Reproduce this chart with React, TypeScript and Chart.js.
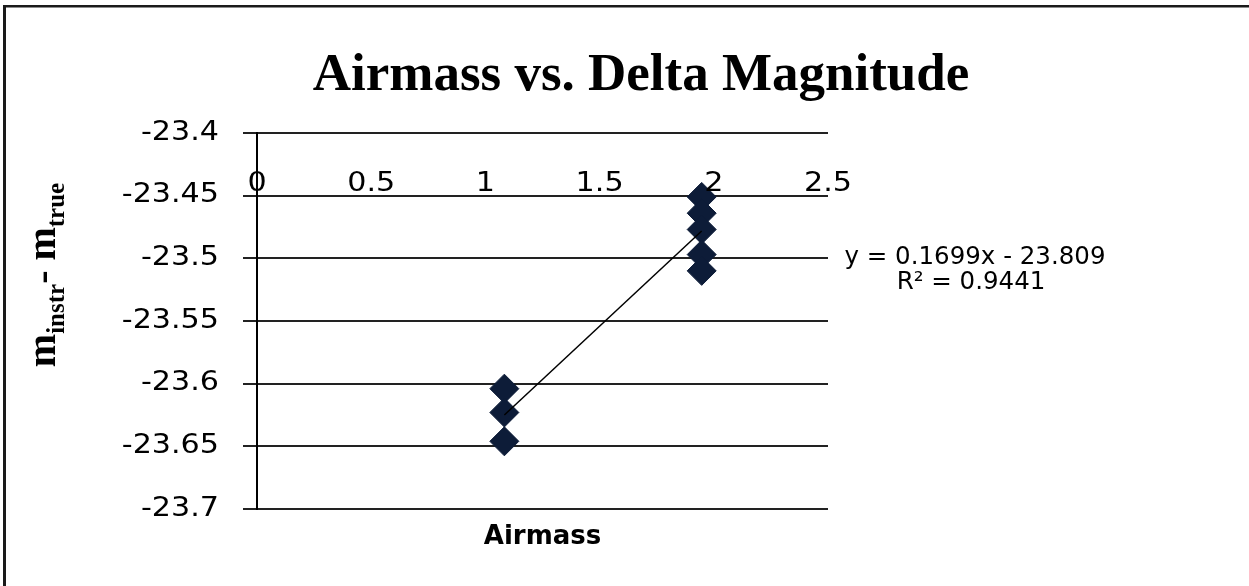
import React, { useEffect, useRef } from "react";
import { Chart, registerables } from "chart.js";

Chart.register(...registerables);

const chartTitle = "Airmass vs. Delta Magnitude";
const xAxisTitle = "Airmass";
const airmass = [1.083, 1.083, 1.083, 1.947, 1.947, 1.947, 1.947, 1.947];
const deltaMag = [-23.604, -23.623, -23.646, -23.451, -23.464, -23.477, -23.497, -23.51];
const xTicks = [0, 0.5, 1, 1.5, 2, 2.5];
const yTicks = [-23.7, -23.65, -23.6, -23.55, -23.5, -23.45, -23.4];
const trendSlope = 0.1699;
const trendIntercept = -23.809;
const trendEquation = "y = 0.1699x - 23.809";
const trendR2 = "R² = 0.9441";

const W = 1249;
const H = 586;
const STRETCH = 1.16;

const fmt = (v: number) => String(parseFloat(v.toFixed(2)));

const overlay = {
  id: "overlay",
  beforeDraw(chart: any) {
    const ctx = chart.ctx;
    ctx.save();
    ctx.fillStyle = "#ffffff";
    ctx.fillRect(0, 0, W, H);
    ctx.restore();
  },
  afterDraw(chart: any) {
    const ctx = chart.ctx;
    const area = chart.chartArea;
    const xs = chart.scales.x;
    const ys = chart.scales.y;
    ctx.save();
    // frame
    ctx.fillStyle = "#1a1a1a";
    ctx.fillRect(3, 5, 3, H - 5);
    ctx.fillRect(3, 5, W - 3, 2.5);

    // title
    ctx.fillStyle = "#000";
    ctx.font = "bold 53px 'Liberation Serif'";
    ctx.textAlign = "center";
    ctx.textBaseline = "alphabetic";
    ctx.fillText(chartTitle, 641, 90);

    // x tick labels (below top edge), slightly wide
    ctx.font = "26px 'DejaVu Sans'";
    ctx.textBaseline = "middle";
    xTicks.forEach((v) => {
      ctx.save();
      ctx.translate(xs.getPixelForValue(v), area.top + 51);
      ctx.scale(STRETCH, 1);
      ctx.textAlign = "center";
      ctx.fillText(fmt(v), 0, 0);
      ctx.restore();
    });

    // y tick labels
    yTicks.forEach((v) => {
      ctx.save();
      ctx.translate(219, ys.getPixelForValue(v));
      ctx.scale(STRETCH, 1);
      ctx.textAlign = "right";
      ctx.fillText(fmt(v), 0, 0);
      ctx.restore();
    });

    // x axis title
    ctx.textAlign = "center";
    ctx.font = "bold 26px 'DejaVu Sans'";
    ctx.fillText(xAxisTitle, (area.left + area.right) / 2, area.bottom + 28);

    // trendline label
    ctx.font = "24.5px 'DejaVu Sans'";
    ctx.fillText(trendEquation, 975, 258);
    ctx.fillText(trendR2, 971, 283);

    // y axis title with subscripts
    ctx.translate(45, 275);
    ctx.rotate(-Math.PI / 2);
    const big = "bold 40px 'Liberation Serif'";
    const small = "bold 25px 'Liberation Serif'";
    const parts: [string, string, number][] = [
      ["m", big, 0],
      ["instr", small, 9],
      ["- ", big, 0],
      ["m", big, 0],
      ["true", small, 9],
    ];
    let total = 0;
    parts.forEach(([t, f]) => {
      ctx.font = f;
      total += ctx.measureText(t).width;
    });
    let x = -total / 2;
    ctx.textAlign = "left";
    ctx.textBaseline = "alphabetic";
    parts.forEach(([t, f, dy]) => {
      ctx.font = f;
      ctx.fillText(t, x, 10 + dy);
      x += ctx.measureText(t).width;
    });
    ctx.restore();
  },
};

export default function App() {
  const ref = useRef<HTMLCanvasElement | null>(null);
  useEffect(() => {
    if (!ref.current) return;
    const xMin = Math.min(...airmass);
    const xMax = Math.max(...airmass);
    const chart = new Chart(ref.current, {
      type: "scatter",
      data: {
        datasets: [
          {
            type: "line",
            data: [
              { x: xMin, y: trendSlope * xMin + trendIntercept },
              { x: xMax, y: trendSlope * xMax + trendIntercept },
            ],
            borderColor: "#000",
            borderWidth: 1.5,
            pointRadius: 0,
            fill: false,
            order: 0,
          } as any,
          {
            data: airmass.map((x, i) => ({ x, y: deltaMag[i] })),
            pointStyle: "rectRot",
            pointRadius: 14.5,
            backgroundColor: "#0d1c38",
            borderColor: "#0d1c38",
            borderWidth: 1,
            order: 1,
          },
        ],
      },
      options: {
        responsive: false,
        animation: false,
        layout: { padding: { left: 0, top: 133, right: 421, bottom: 77 } },
        plugins: { legend: { display: false }, tooltip: { enabled: false }, title: { display: false } },
        scales: {
          x: { type: "linear", min: 0, max: 2.5, display: false },
          y: {
            type: "linear",
            min: -23.7,
            max: -23.4,
            afterBuildTicks: (s: any) => {
              s.ticks = yTicks.map((v) => ({ value: v }));
            },
            afterFit: (s: any) => {
              s.width = 257;
            },
            ticks: { display: false },
            grid: { color: "#222", lineWidth: 2, tickLength: 14, drawTicks: true },
            border: { display: true, color: "#000", width: 2 },
          },
        },
      },
      plugins: [overlay],
    });
    return () => chart.destroy();
  }, []);
  return (
    <div style={{ position: "fixed", left: 0, top: 0, width: W, height: H, background: "#fff" }}>
      <canvas ref={ref} width={W} height={H} style={{ display: "block" }} />
    </div>
  );
}
